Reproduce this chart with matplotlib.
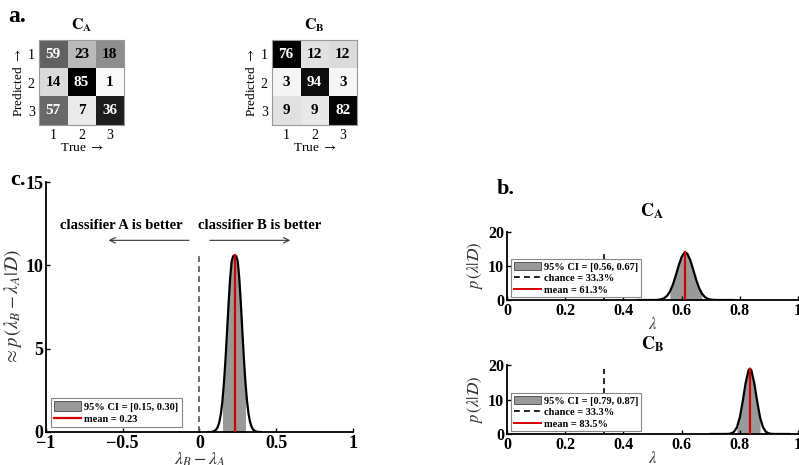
import numpy as np
import matplotlib
matplotlib.use("Agg")
from matplotlib import pyplot as plt
from matplotlib.patches import Patch
from matplotlib.lines import Line2D

plt.rcParams['font.family'] = ['Liberation Serif', 'DejaVu Serif']
plt.rcParams['mathtext.fontset'] = 'stix'

# confusion matrices (rows: predicted, cols: true)
conf_a = np.array([[59, 23, 18],
                   [14, 85, 1],
                   [57, 7, 36]])
conf_b = np.array([[76, 12, 12],
                   [3, 94, 3],
                   [9, 9, 82]])
class_labels = ['1', '2', '3']

# panel c: posterior of the difference
diff_x = [0.06, 0.07, 0.08, 0.09, 0.10, 0.11, 0.12, 0.13, 0.14, 0.15, 0.16,
          0.17, 0.18, 0.19, 0.20, 0.21, 0.22, 0.23, 0.24, 0.25, 0.26, 0.27,
          0.28, 0.29, 0.30, 0.31, 0.32, 0.33, 0.34, 0.35, 0.36, 0.37, 0.38,
          0.39, 0.40]
diff_y = [0.0, 0.0, 0.004, 0.03, 0.07, 0.15, 0.31, 0.60, 1.10, 1.87, 2.97,
          4.38, 6.02, 7.71, 9.20, 10.23, 10.55, 10.6, 10.55, 10.23, 9.20, 7.71,
          6.02, 4.38, 2.97, 1.87, 1.10, 0.60, 0.31, 0.15, 0.07, 0.03, 0.004,
          0.0, 0.0]
diff_ci = [0.15, 0.30]
diff_mean = 0.23

# panel b: posteriors of balanced accuracy
acc_a_x = [0.45, 0.50, 0.51, 0.52, 0.53, 0.54, 0.55, 0.56, 0.57, 0.58, 0.59,
           0.60, 0.61, 0.613, 0.62, 0.63, 0.64, 0.65, 0.66, 0.67, 0.68, 0.69,
           0.70, 0.71, 0.72, 0.73, 0.78]
acc_a_y = [0.0, 0.005, 0.02, 0.07, 0.20, 0.53, 1.22, 2.48, 4.49, 7.16, 10.11,
           12.62, 13.92, 14.0, 13.58, 11.72, 8.94, 6.03, 3.59, 1.89, 0.88, 0.36,
           0.13, 0.04, 0.01, 0.0, 0.0]
acc_a_ci = [0.56, 0.67]
acc_a_mean = 0.613

acc_b_x = [0.70, 0.75, 0.76, 0.77, 0.78, 0.79, 0.80, 0.81, 0.82, 0.83, 0.835,
           0.84, 0.85, 0.86, 0.87, 0.88, 0.89, 0.90, 0.91, 0.92, 0.97]
acc_b_y = [0.0, 0.005, 0.03, 0.16, 0.62, 1.91, 4.74, 9.36, 14.72, 18.47, 19.0,
           18.47, 14.72, 9.36, 4.74, 1.91, 0.62, 0.16, 0.03, 0.005, 0.0]
acc_b_ci = [0.79, 0.87]
acc_b_mean = 0.835

chance = 1 / 3

RED = '#d40000'
FILL = '#999999'
LABEL = '#333333'

fig = plt.figure(figsize=(7.99, 4.65), dpi=100)


def draw_matrix(ax, mat, name):
    frac = mat / mat.sum(axis=0, keepdims=True)
    ax.imshow(frac, cmap='gray_r', vmin=0, vmax=frac.max(), aspect='auto')
    for i in range(3):
        for j in range(3):
            c = 'white' if frac[i, j] / frac.max() > 0.55 else 'black'
            ax.text(j, i, str(mat[i, j]), ha='center', va='center',
                    fontsize=11, fontweight='bold', color=c)
    ax.set_xticks(range(3))
    ax.set_yticks(range(3))
    ax.set_xticklabels(class_labels, fontsize=10)
    ax.set_yticklabels(class_labels, fontsize=10)
    ax.tick_params(length=0, pad=3)
    ax.set_xlabel(r'True $\rightarrow$', fontsize=9.5, labelpad=0)
    ax.set_ylabel(r'Predicted $\rightarrow$', fontsize=9.5, labelpad=2)
    for s in ax.spines.values():
        s.set_color('#999999')
        s.set_linewidth(0.8)
    ax.set_title(r'$\mathbf{C}_{\mathbf{%s}}$' % name, fontsize=11.5, pad=7)


ax_ma = fig.add_axes([0.0488, 0.731, 0.1064, 0.1828])
draw_matrix(ax_ma, conf_a, 'A')
ax_mb = fig.add_axes([0.3404, 0.731, 0.1064, 0.1828])
draw_matrix(ax_mb, conf_b, 'B')


def style_axes(ax, size):
    ax.spines['top'].set_visible(False)
    ax.spines['right'].set_visible(False)
    for s in ('left', 'bottom'):
        ax.spines[s].set_linewidth(1.3)
    ax.tick_params(direction='in', length=3, width=1, labelsize=size, pad=2)
    for lab in ax.get_xticklabels() + ax.get_yticklabels():
        lab.set_fontweight('bold')


def draw_density(ax, xs, ys, ci, mean):
    xs = np.array(xs)
    ys = np.array(ys)
    inside = (xs >= ci[0] - 1e-9) & (xs <= ci[1] + 1e-9)
    ax.fill_between(xs, 0, ys, where=inside, color=FILL, lw=0, zorder=1)
    ax.plot(xs, ys, color='black', lw=1.6, zorder=3)
    top = np.interp(mean, xs, ys)
    ax.plot([mean, mean], [0, top], color=RED, lw=1.6, zorder=4)


# panel c
ax_c = fig.add_axes([0.0576, 0.071, 0.384, 0.5376])
draw_density(ax_c, diff_x, diff_y, diff_ci, diff_mean)
ax_c.plot([0, 0], [0, max(diff_y)], color='#555555', lw=1.2, ls=(0, (3.5, 2.5)), zorder=2)
ax_c.set_xlim(-1, 1)
ax_c.set_ylim(0, 15)
ax_c.set_xticks([-1, -0.5, 0, 0.5, 1])
ax_c.set_xticklabels(['−1', '−0.5', '0', '0.5', '1'])
ax_c.set_yticks([0, 5, 10, 15])
style_axes(ax_c, 13)
ax_c.set_xlabel(r'$\lambda_B - \lambda_A$', fontsize=13, color=LABEL, labelpad=-1)
ax_c.set_ylabel(r'$\approx p\,(\lambda_B - \lambda_A|\mathcal{D})$', fontsize=13.5,
                color=LABEL, labelpad=1)
ax_c.text(-0.51, 12.4, 'classifier A is better', ha='center', va='center',
          fontsize=10.5, fontweight='bold')
ax_c.text(0.39, 12.4, 'classifier B is better', ha='center', va='center',
          fontsize=10.5, fontweight='bold')
ax_c.annotate('', xy=(-0.61, 11.5), xytext=(-0.05, 11.5),
              arrowprops=dict(arrowstyle='->', color='#333333', lw=0.8))
ax_c.annotate('', xy=(0.61, 11.5), xytext=(0.05, 11.5),
              arrowprops=dict(arrowstyle='->', color='#333333', lw=0.8))
leg_c = ax_c.legend(handles=[Patch(facecolor=FILL, edgecolor='#444444', lw=0.6),
                             Line2D([], [], color=RED, lw=1.6)],
                    labels=['95%% CI = [%.2f, %.2f]' % tuple(diff_ci),
                            'mean = %.2f' % diff_mean],
                    loc='lower left', bbox_to_anchor=(0.016, 0.02),
                    borderaxespad=0, fancybox=False, framealpha=1,
                    edgecolor='#888888', prop={'weight': 'bold', 'size': 7.5},
                    handlelength=2.6, handleheight=1.0, borderpad=0.3,
                    labelspacing=0.2, handletextpad=0.3)
leg_c.get_frame().set_linewidth(0.8)


def draw_acc(rect, xs, ys, ci, mean, name):
    ax = fig.add_axes(rect)
    draw_density(ax, xs, ys, ci, mean)
    ax.plot([chance, chance], [0, max(ys)], color='black', lw=1.2,
            ls=(0, (3.5, 2.5)), zorder=2)
    ax.set_xlim(0, 1)
    ax.set_ylim(0, 20)
    ax.set_xticks([0, 0.2, 0.4, 0.6, 0.8, 1])
    ax.set_xticklabels(['0', '0.2', '0.4', '0.6', '0.8', '1'])
    ax.set_yticks([0, 10, 20])
    style_axes(ax, 11.5)
    ax.set_xlabel(r'$\lambda$', fontsize=12, color=LABEL, labelpad=-1)
    ax.set_ylabel(r'$p\,(\lambda|\mathcal{D})$', fontsize=12, color=LABEL,
                  labelpad=2)
    ax.set_title(r'$\mathbf{C}_{\mathbf{%s}}$' % name, fontsize=13, pad=11)
    leg = ax.legend(handles=[Patch(facecolor=FILL, edgecolor='#444444', lw=0.6),
                             Line2D([], [], color='black', lw=1.2, ls=(0, (3.5, 2.5))),
                             Line2D([], [], color=RED, lw=1.4)],
                    labels=['95%% CI = [%.2f, %.2f]' % tuple(ci),
                            'chance = %.1f%%' % (chance * 100),
                            'mean = %.1f%%' % (mean * 100)],
                    loc='lower left', bbox_to_anchor=(0.014, 0.04),
                    borderaxespad=0, fancybox=False, framealpha=1,
                    edgecolor='#888888', prop={'weight': 'bold', 'size': 7.5},
                    handlelength=2.6, handleheight=0.9, borderpad=0.25,
                    labelspacing=0.15, handletextpad=0.3)
    leg.get_frame().set_linewidth(0.8)
    return ax


draw_acc([0.6345, 0.3548, 0.3642, 0.1462], acc_a_x, acc_a_y, acc_a_ci,
         acc_a_mean, 'A')
draw_acc([0.6345, 0.0667, 0.3642, 0.148], acc_b_x, acc_b_y, acc_b_ci,
         acc_b_mean, 'B')

fig.text(0.010, 0.965, 'a.', fontsize=17, fontweight='bold', va='center')
fig.text(0.013, 0.612, 'c.', fontsize=16, fontweight='bold', va='center')
fig.text(0.622, 0.594, 'b.', fontsize=16, fontweight='bold', va='center')

fig.savefig('out.png', dpi=100)
